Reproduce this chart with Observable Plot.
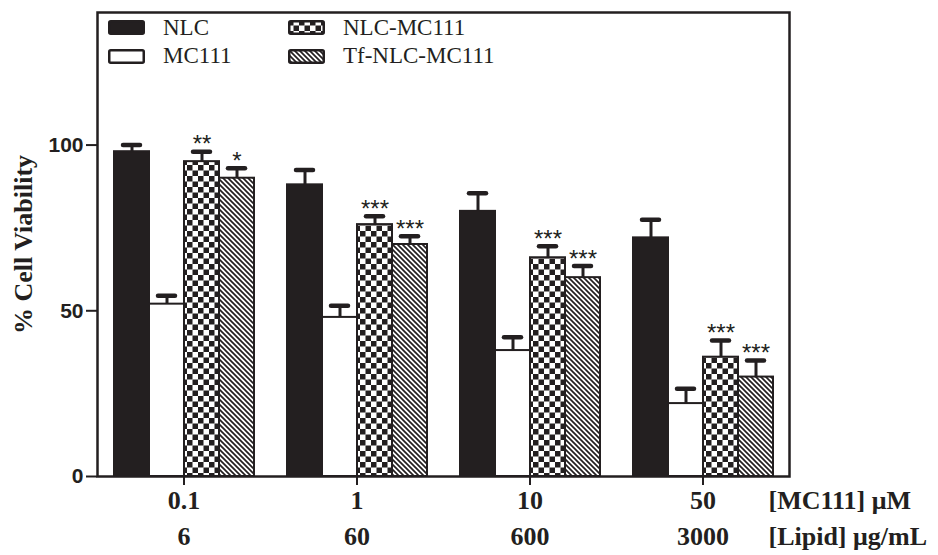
<!DOCTYPE html>
<html>
<head>
<meta charset="utf-8">
<script src="https://cdn.jsdelivr.net/npm/d3@7"></script>
<script src="https://cdn.jsdelivr.net/npm/@observablehq/plot@0.6"></script>
<style>
  body { margin: 0; background: #fff; }
  #wrap { position: relative; width: 938px; height: 555px; overflow: hidden; }
  #chart svg { display: block; }
  #chart g[aria-label="y-axis label"] text {
    font-family: "Liberation Serif", serif; font-size: 26px; font-weight: bold;
  }
  #legend .item { position: absolute; font-family: "Liberation Serif", serif; font-size: 23px; line-height: 23px; color: #231f20; white-space: nowrap; }
  #legend svg { position: absolute; overflow: visible; }
</style>
</head>
<body>
<svg width="0" height="0" style="position:absolute">
  <defs>
    <pattern id="checker" patternUnits="userSpaceOnUse" width="11" height="11">
      <rect width="11" height="11" fill="#ffffff"/>
      <rect width="5.5" height="5.5" fill="#231f20"/>
      <rect x="5.5" y="5.5" width="5.5" height="5.5" fill="#231f20"/>
    </pattern>
    <pattern id="hatch" patternUnits="userSpaceOnUse" width="5" height="5">
      <rect width="5" height="5" fill="#ffffff"/>
      <path d="M-1,-1L6,6M-1,4L1,6M4,-1L6,1" stroke="#231f20" stroke-width="1.7"/>
    </pattern>
  </defs>
</svg>
<div id="wrap">
  <div id="chart"></div>
  <div id="legend"></div>
</div>
<script>
// ---- data ----
const groups = ["0.1", "1", "10", "50"];           // [MC111] µM
const lipid = ["6", "60", "600", "3000"];          // [Lipid] µg/mL
const series = ["NLC", "MC111", "NLC-MC111", "Tf-NLC-MC111"];
const nlc = [98, 88, 80, 72];
const nlcErr = [2, 4.5, 5.5, 5.5];
const mc111 = [52, 48, 38, 22];
const mc111Err = [2.5, 3.5, 4, 4.5];
const nlcMc = [95, 76, 66, 36];
const nlcMcErr = [3, 2.5, 3.5, 5];
const tfNlcMc = [90, 70, 60, 30];
const tfNlcMcErr = [3, 2.5, 3.5, 5];
const nlcMcStars = ["**", "***", "***", "***"];
const tfNlcMcStars = ["*", "***", "***", "***"];
const axisTitles = ["[MC111] \u03bcM", "[Lipid] \u03bcg/mL"];
const yTicks = [0, 50, 100];
const yLabel = "% Cell Viability";

const fills = ["#231f20", "#ffffff", "url(#checker)", "url(#hatch)"];
const ink = "#231f20";

const values = [nlc, mc111, nlcMc, tfNlcMc];
const errs = [nlcErr, mc111Err, nlcMcErr, tfNlcMcErr];
const starSets = [null, null, nlcMcStars, tfNlcMcStars];

const rows = [];
groups.forEach((g, i) => {
  series.forEach((s, j) => {
    rows.push({
      group: g, series: s, value: values[j][i], err: errs[j][i],
      top: values[j][i] + errs[j][i],
      star: starSets[j] ? starSets[j][i] : null
    });
  });
});

const chart = Plot.plot({
  width: 938,
  height: 555,
  marginTop: 12,
  marginBottom: 79,
  marginLeft: 97,
  marginRight: 149,
  style: { background: "transparent", color: ink, overflow: "visible" },
  fx: { domain: groups, paddingInner: 0, paddingOuter: 0, label: null, axis: null },
  x: { domain: series, paddingInner: 0, paddingOuter: 0.47, axis: null },
  y: { domain: [0, 140], axis: null },
  color: { type: "ordinal", domain: series, range: fills },
  marks: [
    Plot.barY(rows, { fx: "group", x: "series", y: "value", fill: "series", stroke: ink, strokeWidth: 2 }),
    Plot.ruleX(rows, { fx: "group", x: "series", y1: "value", y2: "top", stroke: ink, strokeWidth: 3 }),
    Plot.tickY(rows, { fx: "group", x: "series", y: "top", stroke: ink, strokeWidth: 4.5, strokeLinecap: "round", insetLeft: 9, insetRight: 9 }),
    Plot.text(rows.filter(d => d.star), {
      fx: "group", x: "series", y: "top", text: "star", dy: -7, lineAnchor: "middle",
      fontSize: 24, fontFamily: "Liberation Sans", fill: ink
    }),
    Plot.axisY({
      ticks: yTicks, tickSize: 11, tickPadding: 3, strokeWidth: 2,
      fontSize: 21, fontWeight: "bold", fontFamily: "Liberation Sans",
      label: yLabel, labelAnchor: "center", labelOffset: 84, labelArrow: "none"
    }),
    Plot.axisFx({
      domain: groups, anchor: "bottom", tickSize: 9, tickPadding: 5, strokeWidth: 2,
      fontSize: 26, fontWeight: "bold", fontFamily: "Liberation Serif", label: null
    }),
    Plot.axisFx({
      domain: groups, anchor: "bottom", tickSize: 0, tickPadding: 50,
      tickFormat: d => lipid[groups.indexOf(d)],
      fontSize: 26, fontWeight: "bold", fontFamily: "Liberation Serif", label: null
    }),
    Plot.text([axisTitles[0]], {
      fx: () => groups[groups.length - 1], frameAnchor: "bottom-right", text: d => d,
      textAnchor: "start", lineAnchor: "top", dx: -21, dy: 14,
      fontSize: 26, fontWeight: "bold", fontFamily: "Liberation Serif", fill: ink
    }),
    Plot.text([axisTitles[1]], {
      fx: () => groups[groups.length - 1], frameAnchor: "bottom-right", text: d => d,
      textAnchor: "start", lineAnchor: "top", dx: -21, dy: 50,
      fontSize: 26, fontWeight: "bold", fontFamily: "Liberation Serif", fill: ink
    }),
    Plot.frame({ facet: "super", stroke: ink, strokeWidth: 2.5 })
  ]
});
document.getElementById("chart").appendChild(chart);

// ---- legend (inside the frame, top-left) ----
const legend = d3.select("#legend");
series.forEach((s, i) => {
  const col = Math.floor(i / 2), row = i % 2;
  const sx = 108 + col * 180, sy = 20 + row * 29;
  const sw = legend.append("svg").attr("width", 37).attr("height", 15)
    .style("left", sx + "px").style("top", sy + "px");
  sw.append("rect").attr("x", 1.25).attr("y", 1.25).attr("width", 34.5).attr("height", 12.5)
    .attr("rx", 1.5).attr("fill", fills[i]).attr("stroke", ink).attr("stroke-width", 2.5);
  legend.append("div").attr("class", "item").text(s)
    .style("left", (163 + col * 180) + "px").style("top", (16 + row * 28) + "px");
});
</script>
</body>
</html>
